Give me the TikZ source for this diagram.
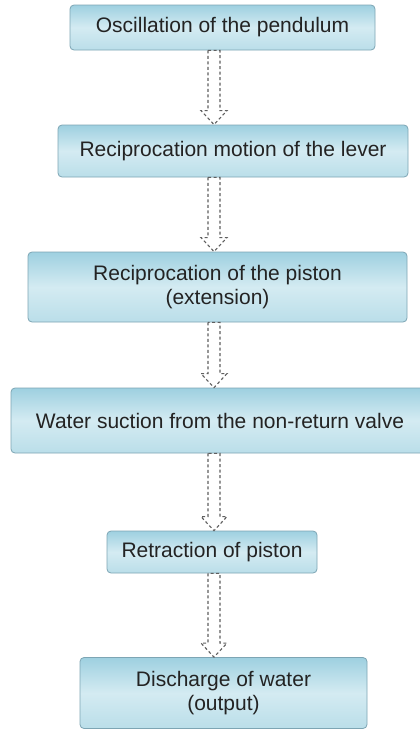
\documentclass[tikz,border=0pt]{standalone}
\usepackage{fontspec}
\setmainfont{Liberation Sans}
\usetikzlibrary{calc}
\definecolor{boxtop}{RGB}{158,208,224}
\definecolor{boxmid}{RGB}{212,235,242}
\definecolor{boxbot}{RGB}{186,222,233}
\definecolor{boxline}{RGB}{125,165,180}
\definecolor{txt}{RGB}{35,35,35}
\definecolor{arrgray}{RGB}{95,95,95}
\tikzset{
  flowbox/.style={draw=boxline, line width=0.8pt, rounded corners=4pt,
    top color=boxtop, bottom color=boxbot, middle color=boxmid,
    inner sep=0pt, align=center, text=txt,
    font=\fontsize{21}{24}\selectfont},
  arrstyle/.style={draw=arrgray, line width=1.1pt, dash pattern=on 3pt off 2.5pt, line join=miter}
}
\newcommand\flowarr[2]{%
  \draw[arrstyle] let \p1=(#1.south -| ax), \p2=(#2.north -| ax) in
    (\x1-6pt,\y1) -- (\x1-6pt,\y2+14pt) -- (\x1-13pt,\y2+14pt) -- (\x1,\y2)
    -- (\x1+13pt,\y2+14pt) -- (\x1+6pt,\y2+14pt) -- (\x1+6pt,\y1) -- cycle;}
\begin{document}
\begin{tikzpicture}[x=1pt,y=-1pt]
\useasboundingbox (0,0) rectangle (420,731);
\clip (0,0) rectangle (420,731);
\fill[white] (0,0) rectangle (420,731);
\coordinate (ax) at (214,0);
\node[flowbox, minimum width=305pt, minimum height=45pt] (b1) at (222.5,27.5) {Oscillation of the pendulum};
\node[flowbox, minimum width=350pt, minimum height=52pt] (b2) at (233,151) {Reciprocation motion of the lever};
\node[flowbox, minimum width=379pt, minimum height=70pt] (b3) at (217.5,287) {Reciprocation of the piston\\(extension)};
\node[flowbox, minimum width=418pt, minimum height=65pt] (b4) at (220,420.5) {Water suction from the non-return valve};
\node[flowbox, minimum width=210pt, minimum height=42pt] (b5) at (212,552) {Retraction of piston};
\node[flowbox, minimum width=287pt, minimum height=71pt] (b6) at (223.5,693) {Discharge of water\\(output)};
\flowarr{b1}{b2}
\flowarr{b2}{b3}
\flowarr{b3}{b4}
\flowarr{b4}{b5}
\flowarr{b5}{b6}
\end{tikzpicture}
\end{document}
